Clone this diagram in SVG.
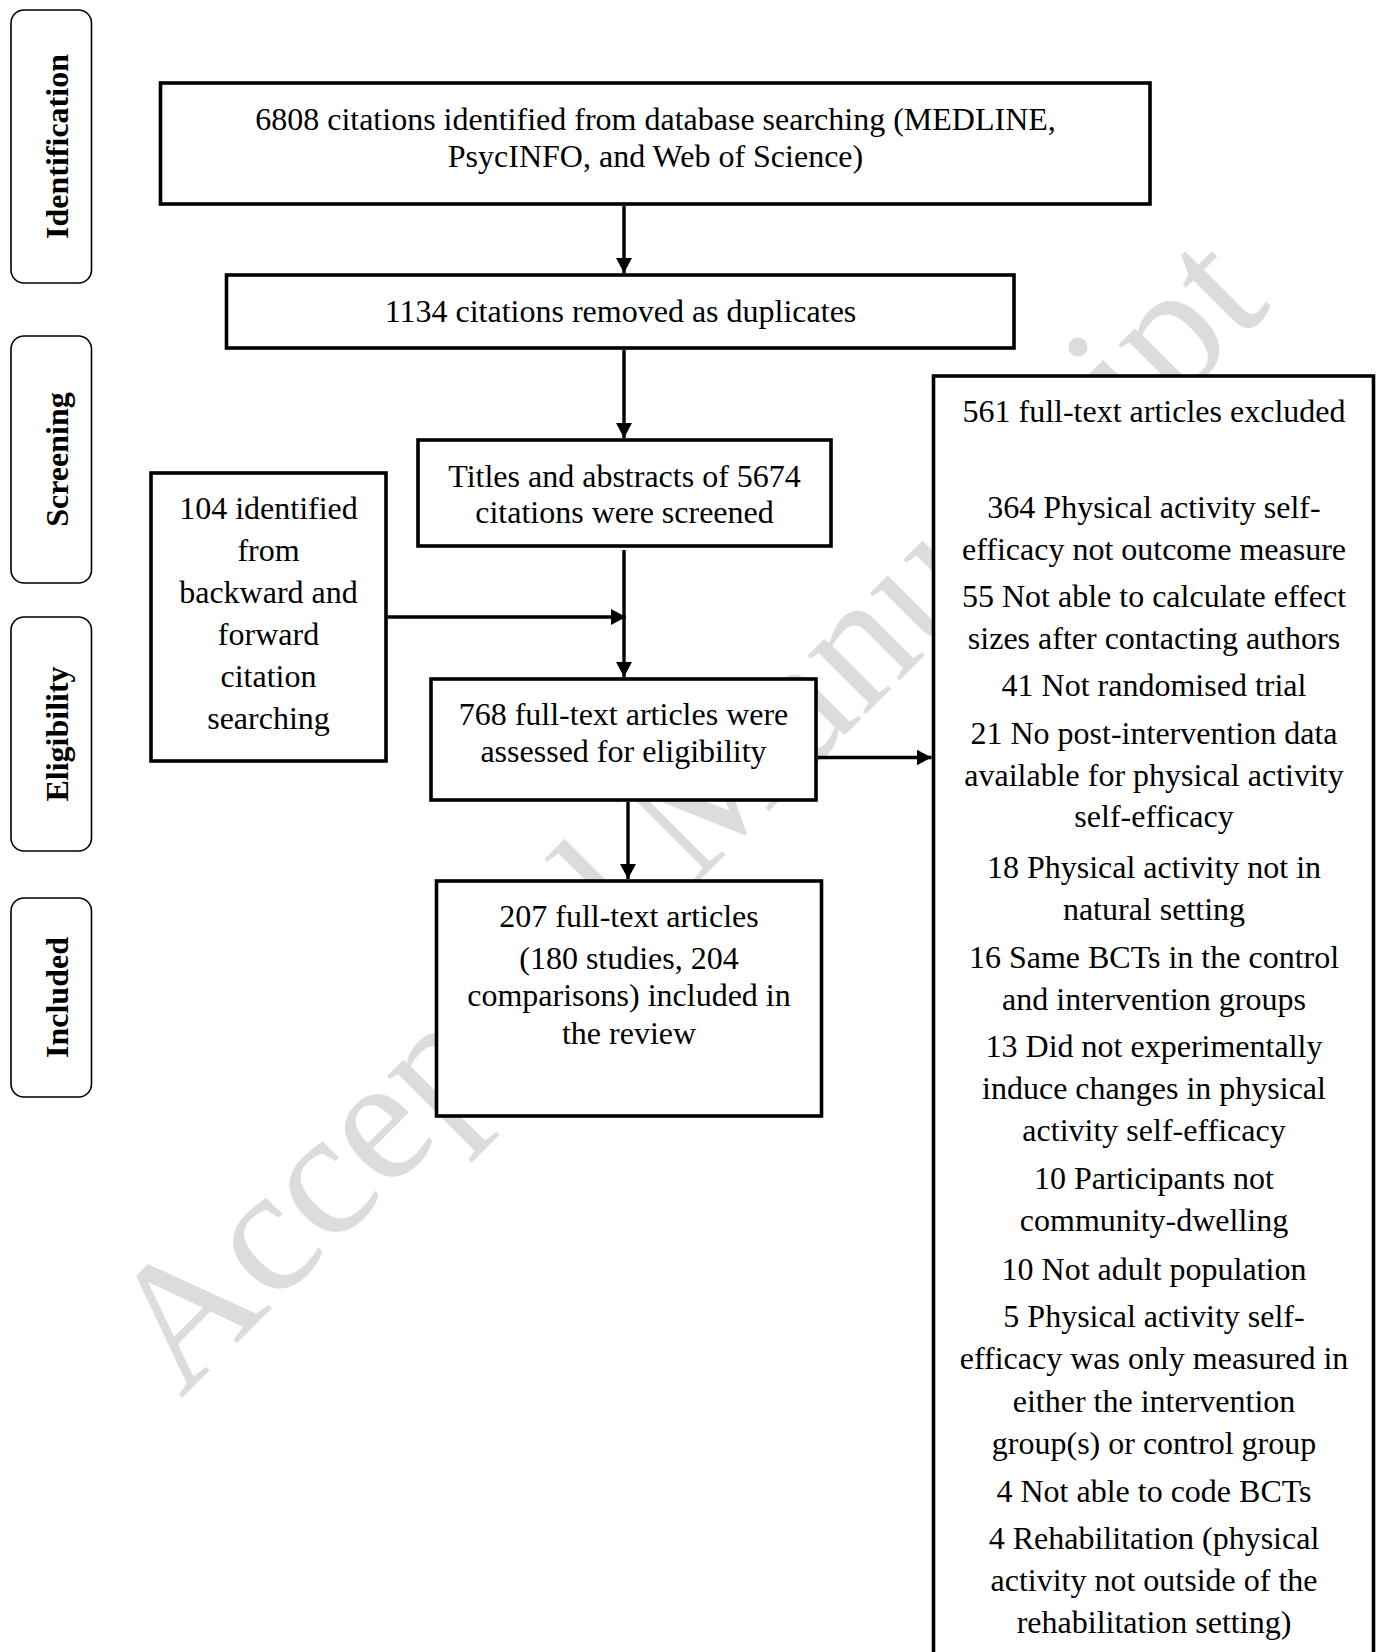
<svg xmlns="http://www.w3.org/2000/svg" width="1383" height="1652" viewBox="0 0 1383 1652">
<defs>
<style>
.t{font-family:"Liberation Serif","Times New Roman",serif;font-size:32px;fill:#000;text-anchor:middle}
.lb{font-family:"Liberation Serif","Times New Roman",serif;font-size:32px;font-weight:bold;fill:#000;text-anchor:middle}
.box{fill:#fff;stroke:#000;stroke-width:3.6}
.pill{fill:#fff;stroke:#000;stroke-width:1.6}
.wm{font-family:"Liberation Serif","Times New Roman",serif;font-size:180px;fill:#dcdcdc}
.c{stroke:#000;stroke-width:3.4;fill:none;marker-end:url(#ah)}
</style>
<marker id="ah" markerUnits="userSpaceOnUse" markerWidth="16" markerHeight="16" refX="15" refY="8" orient="auto">
<path d="M0,0 L15,8 L0,16 z" fill="#000"/>
</marker>
</defs>
<rect width="1383" height="1652" fill="#fff"/>
<g id="watermark">
<text class="wm" transform="translate(181,1399) rotate(-45)">Accepted Manuscript</text>
</g>
<g id="phases">
<g id="phase-identification"><rect class="pill" x="11" y="10" width="80.5" height="273" rx="13"/><text class="lb" transform="translate(68,146.5) rotate(-90)">Identification</text></g>
<g id="phase-screening"><rect class="pill" x="11" y="336" width="80.5" height="247" rx="13"/><text class="lb" transform="translate(68,459.5) rotate(-90)">Screening</text></g>
<g id="phase-eligibility"><rect class="pill" x="11" y="617" width="80.5" height="234" rx="13"/><text class="lb" transform="translate(68,734) rotate(-90)">Eligibility</text></g>
<g id="phase-included"><rect class="pill" x="11" y="898" width="80.5" height="199" rx="13"/><text class="lb" transform="translate(68,997.5) rotate(-90)">Included</text></g>
</g>
<g id="n-identified"><rect class="box" x="160.5" y="83" width="989.5" height="121"/>
<text class="t" x="655.5" y="130">6808 citations identified from database searching (MEDLINE,</text>
<text class="t" x="655.5" y="167">PsycINFO, and Web of Science)</text></g>
<g id="n-duplicates"><rect class="box" x="226.5" y="275" width="787.5" height="73"/>
<text class="t" x="620.5" y="322">1134 citations removed as duplicates</text></g>
<g id="n-screened"><rect class="box" x="418" y="440" width="413" height="106"/>
<text class="t" x="624.5" y="487">Titles and abstracts of 5674</text>
<text class="t" x="624.5" y="523">citations were screened</text></g>
<g id="n-citation-search"><rect class="box" x="151" y="473" width="235" height="288"/>
<text class="t" x="268.5" y="518.5">104 identified</text>
<text class="t" x="268.5" y="560.6">from</text>
<text class="t" x="268.5" y="602.7">backward and</text>
<text class="t" x="268.5" y="644.8">forward</text>
<text class="t" x="268.5" y="686.9">citation</text>
<text class="t" x="268.5" y="729">searching</text></g>
<g id="n-assessed"><rect class="box" x="431" y="679" width="385" height="121"/>
<text class="t" x="623.5" y="725">768 full-text articles were</text>
<text class="t" x="623.5" y="761.5">assessed for eligibility</text></g>
<g id="n-included"><rect class="box" x="436.5" y="881" width="385" height="235"/>
<text class="t" x="629" y="926.5">207 full-text articles</text>
<text class="t" x="629" y="969">(180 studies, 204</text>
<text class="t" x="629" y="1006">comparisons) included in</text>
<text class="t" x="629" y="1043.5">the review</text></g>
<g id="n-excluded"><rect class="box" x="933.5" y="376" width="440" height="1320"/>
<text class="t" x="1154" y="422">561 full-text articles excluded</text>
<text class="t" x="1154" y="518">364 Physical activity self-</text>
<text class="t" x="1154" y="560">efficacy not outcome measure</text>
<text class="t" x="1154" y="607">55 Not able to calculate effect</text>
<text class="t" x="1154" y="648.5">sizes after contacting authors</text>
<text class="t" x="1154" y="695.5">41 Not randomised trial</text>
<text class="t" x="1154" y="743.5">21 No post-intervention data</text>
<text class="t" x="1154" y="786">available for physical activity</text>
<text class="t" x="1154" y="827">self-efficacy</text>
<text class="t" x="1154" y="877.5">18 Physical activity not in</text>
<text class="t" x="1154" y="919.5">natural setting</text>
<text class="t" x="1154" y="967.5">16 Same BCTs in the control</text>
<text class="t" x="1154" y="1009.5">and intervention groups</text>
<text class="t" x="1154" y="1057">13 Did not experimentally</text>
<text class="t" x="1154" y="1099">induce changes in physical</text>
<text class="t" x="1154" y="1141">activity self-efficacy</text>
<text class="t" x="1154" y="1189">10 Participants not</text>
<text class="t" x="1154" y="1231">community-dwelling</text>
<text class="t" x="1154" y="1279.5">10 Not adult population</text>
<text class="t" x="1154" y="1327">5 Physical activity self-</text>
<text class="t" x="1154" y="1369">efficacy was only measured in</text>
<text class="t" x="1154" y="1411.5">either the intervention</text>
<text class="t" x="1154" y="1453.5">group(s) or control group</text>
<text class="t" x="1154" y="1502">4 Not able to code BCTs</text>
<text class="t" x="1154" y="1549">4 Rehabilitation (physical</text>
<text class="t" x="1154" y="1591">activity not outside of the</text>
<text class="t" x="1154" y="1633">rehabilitation setting)</text></g>
<g id="connectors">
<line class="c" x1="624" y1="206" x2="624" y2="273"/>
<line class="c" x1="624" y1="350" x2="624" y2="438"/>
<line class="c" x1="624" y1="550" x2="624" y2="677"/>
<line class="c" x1="388" y1="617" x2="626" y2="617"/>
<line class="c" x1="818" y1="757.5" x2="931.5" y2="757.5"/>
<line class="c" x1="628" y1="802" x2="628" y2="879"/>
</g>
</svg>
